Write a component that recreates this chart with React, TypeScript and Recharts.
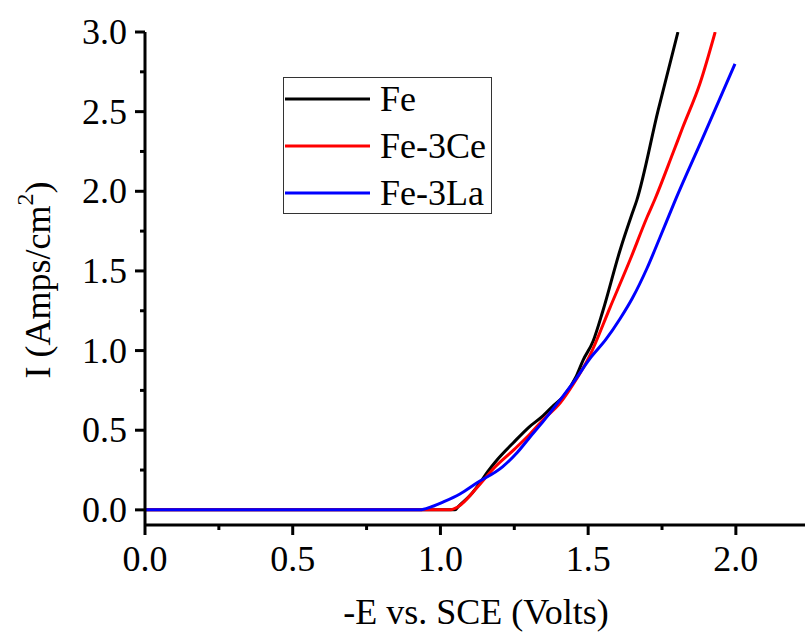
import { LineChart, Line, XAxis, YAxis, Legend, Label } from "recharts";

// potential (V) and current density (A/cm2)
const feX = [0, 0.5, 1.0, 1.05, 1.06, 1.1, 1.134, 1.16, 1.19, 1.246, 1.3, 1.347, 1.38, 1.42, 1.46, 1.483, 1.517, 1.55, 1.608, 1.649, 1.664, 1.737, 1.804];
const feY = [0, 0, 0, 0, 0.02, 0.09, 0.17, 0.24, 0.31, 0.42, 0.52, 0.59, 0.65, 0.72, 0.84, 0.94, 1.06, 1.25, 1.63, 1.86, 1.94, 2.51, 3.0];

const ceX = [0, 0.5, 1.0, 1.03, 1.06, 1.124, 1.18, 1.25, 1.3, 1.35, 1.405, 1.45, 1.506, 1.574, 1.642, 1.7, 1.726, 1.787, 1.82, 1.879, 1.93];
const ceY = [0, 0, 0, 0, 0.02, 0.14, 0.26, 0.38, 0.47, 0.57, 0.67, 0.79, 0.97, 1.27, 1.57, 1.84, 1.95, 2.24, 2.4, 2.68, 3.0];

const laX = [0, 0.5, 0.93, 0.97, 1.01, 1.066, 1.124, 1.21, 1.26, 1.3, 1.35, 1.405, 1.45, 1.506, 1.56, 1.608, 1.65, 1.7, 1.743, 1.794, 1.889, 1.997];
const laY = [0, 0, 0, 0.02, 0.05, 0.1, 0.17, 0.27, 0.36, 0.45, 0.56, 0.69, 0.8, 0.95, 1.07, 1.2, 1.33, 1.52, 1.71, 1.94, 2.34, 2.8];

const xTicks = [0, 0.25, 0.5, 0.75, 1.0, 1.25, 1.5, 1.75, 2.0];
const yTicks = [0, 0.25, 0.5, 0.75, 1.0, 1.25, 1.5, 1.75, 2.0, 2.25, 2.5, 2.75, 3.0];

const font = "'Liberation Serif', 'Times New Roman', Times, serif";

const toPoints = (xs: number[], ys: number[]) => xs.map((x, i) => ({ x, y: ys[i] }));

const series = [
  { name: "Fe", color: "#000000", data: toPoints(feX, feY) },
  { name: "Fe-3Ce", color: "#ff0000", data: toPoints(ceX, ceY) },
  { name: "Fe-3La", color: "#0000ff", data: toPoints(laX, laY) },
];

const isMajor = (v: number) => Math.abs(v * 2 - Math.round(v * 2)) < 1e-6;

const YTick = (props: any) => {
  const { x, y, payload } = props;
  const v = payload.value;
  const major = isMajor(v);
  return (
    <g>
      <line x1={x} x2={x - (major ? 10 : 5)} y1={y} y2={y} stroke="#000" strokeWidth={3} />
      {major && (
        <text x={x - 18} y={y} textAnchor="end" dominantBaseline="central" fontSize={36} fontFamily={font} fill="#000">
          {v.toFixed(1)}
        </text>
      )}
    </g>
  );
};

const XTick = (props: any) => {
  const { x, y, payload } = props;
  const v = payload.value;
  const major = isMajor(v);
  return (
    <g>
      <line x1={x} x2={x} y1={y} y2={y + (major ? 10 : 5)} stroke="#000" strokeWidth={3} />
      {major && (
        <text x={x} y={y + 46} textAnchor="middle" fontSize={36} fontFamily={font} fill="#000">
          {v.toFixed(1)}
        </text>
      )}
    </g>
  );
};

const renderLegend = (props: any) => {
  const items = props.payload || [];
  return (
    <svg width={209} height={137} style={{ display: "block" }}>
      <rect x={0.5} y={0.5} width={208} height={136} fill="#fff" stroke="#333" strokeWidth={1} />
      {items.map((item: any, i: number) => {
        const cy = 22 + i * 47;
        return (
          <g key={item.value}>
            <line x1={2} x2={87} y1={cy} y2={cy} stroke={item.color} strokeWidth={3} />
            <text x={97} y={cy} dominantBaseline="central" fontSize={36} fontFamily={font} fill="#000">
              {item.value}
            </text>
          </g>
        );
      })}
    </svg>
  );
};

export default function App() {
  return (
    <div style={{ position: "absolute", left: 0, top: 0, width: 805, height: 635, background: "#fff" }}>
      <LineChart width={805} height={635} margin={{ top: 32, right: 0, bottom: 0, left: 0 }}>
        <XAxis
          type="number"
          dataKey="x"
          domain={[0, 2.234]}
          ticks={xTicks}
          interval={0}
          allowDataOverflow
          height={110}
          tickSize={0}
          tickMargin={0}
          tickLine={false}
          axisLine={{ stroke: "#000", strokeWidth: 3 }}
          tick={<XTick />}
        >
          <Label
            content={() => (
              <text x={476} y={624} textAnchor="middle" fontSize={36} fontFamily={font} fill="#000">
                -E vs. SCE (Volts)
              </text>
            )}
          />
        </XAxis>
        <YAxis
          type="number"
          dataKey="y"
          domain={[-0.095, 3.0]}
          ticks={yTicks}
          interval={0}
          allowDataOverflow
          width={145}
          tickSize={0}
          tickMargin={0}
          tickLine={false}
          axisLine={{ stroke: "#000", strokeWidth: 3 }}
          tick={<YTick />}
        >
          <Label
            content={() => (
              <text
                x={38}
                y={280}
                transform="rotate(-90, 38, 280)"
                textAnchor="middle"
                dominantBaseline="central"
                fontSize={36}
                fontFamily={font}
                fill="#000"
              >
                I (Amps/cm
                <tspan baselineShift="super" fontSize={24}>
                  2
                </tspan>
                )
              </text>
            )}
          />
        </YAxis>
        <Legend
          layout="vertical"
          align="center"
          verticalAlign="middle"
          content={renderLegend}
          wrapperStyle={{ position: "absolute", left: 283, top: 77, width: 209, height: 137 }}
        />
        {series.map((s) => (
          <Line
            key={s.name}
            name={s.name}
            data={s.data}
            dataKey="y"
            type="monotone"
            stroke={s.color}
            strokeWidth={3}
            dot={false}
            activeDot={false}
            isAnimationActive={false}
          />
        ))}
      </LineChart>
    </div>
  );
}
